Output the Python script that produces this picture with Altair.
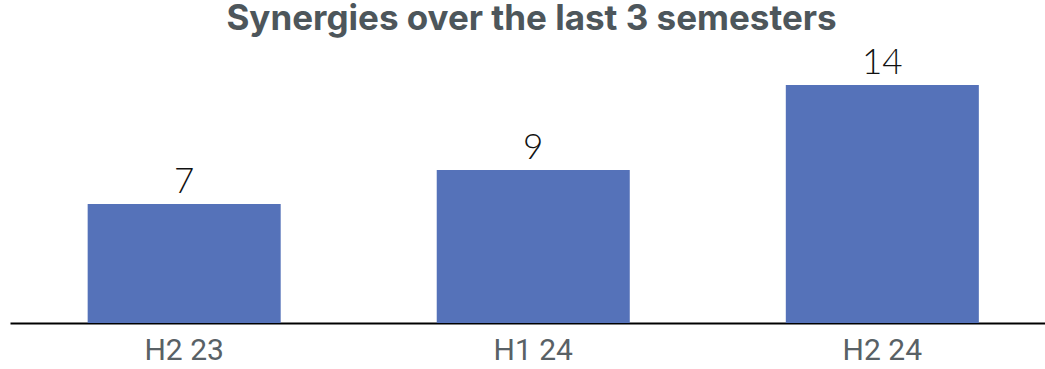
import altair as alt
import pandas as pd

# Synergies per semester
semesters = ["H2 23", "H1 24", "H2 24"]
synergies = [7, 9, 14]

df = pd.DataFrame({"semester": semesters, "synergies": synergies})

x_enc = alt.X(
    "semester:N",
    sort=semesters,
    title=None,
    scale=alt.Scale(paddingInner=0.447, paddingOuter=0.206, align=0.54),
    axis=alt.Axis(
        domain=True,
        domainColor="#000000",
        domainWidth=2,
        ticks=False,
        labelAngle=0,
        labelFont="Roboto",
        labelFontSize=30,
        labelColor="#596166",
        labelPadding=12,
        grid=False,
    ),
)
y_enc = alt.Y(
    "synergies:Q",
    scale=alt.Scale(domain=[0, 14], nice=False),
    axis=None,
)

base = alt.Chart(df).encode(x=x_enc, y=y_enc)

bars = base.mark_bar(color="#5572B9")
labels = base.mark_text(
    baseline="alphabetic",
    dy=-11,
    font="Lato",
    fontSize=35,
    fontWeight=300,
    color="#111111",
).encode(text="synergies:Q")

chart = (
    alt.layer(bars, labels)
    .properties(
        width=1035,
        height=238,
        autosize=alt.AutoSizeParams(type="none"),
        padding={"left": 10, "top": 85, "right": 0, "bottom": 46},
        title=alt.TitleParams(
            "Synergies over the last 3 semesters",
            font="Inter",
            fontSize=35,
            fontWeight="bold",
            color="#4D565B",
            anchor="middle",
            frame="group",
            baseline="alphabetic",
            offset=-19,
            dx=4,
        ),
    )
    .configure_view(stroke=None)
)

chart.save("out.html", embed_options={"renderer": "svg", "actions": False})
